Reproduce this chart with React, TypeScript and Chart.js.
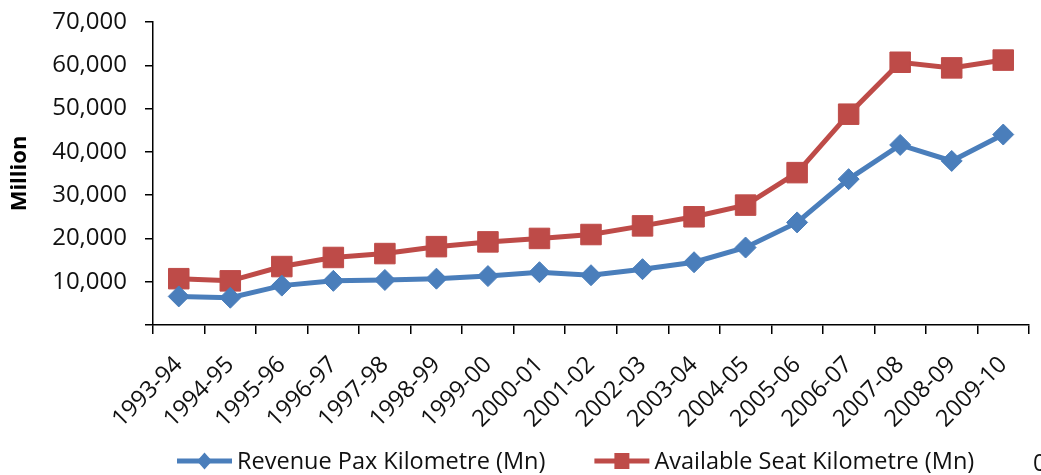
import React, { useEffect, useRef } from 'react';
import { Chart, registerables } from 'chart.js';

Chart.register(...registerables);

const categories = [
  '1993-94', '1994-95', '1995-96', '1996-97', '1997-98', '1998-99', '1999-00', '2000-01', '2001-02',
  '2002-03', '2003-04', '2004-05', '2005-06', '2006-07', '2007-08', '2008-09', '2009-10',
];
const revenuePaxKm = [6600, 6300, 9100, 10200, 10400, 10700, 11300, 12200, 11500, 12900, 14500, 17900, 23700, 33700, 41600, 37900, 44000];
const availableSeatKm = [10700, 10200, 13500, 15600, 16500, 18100, 19200, 20000, 20900, 22900, 25000, 27700, 35200, 48700, 60700, 59400, 61200];
const seriesLabels = ['Revenue Pax Kilometre (Mn)', 'Available Seat Kilometre (Mn)'];
const yMin = 0;
const yMax = 70000;
const yStep = 10000;
const yTitle = 'Million';
const cornerText = '0';

const FONT = '"Open Sans", sans-serif';
const TEXT = '#111111';
const BLUE = '#4A7EBB';
const RED = '#BE4B48';

const legendPlugin = {
  id: 'lineLegend',
  afterDraw(chart: any) {
    const ctx = chart.ctx as CanvasRenderingContext2D;
    const area = chart.chartArea;
    ctx.save();
    ctx.font = `23.5px ${FONT}`;
    ctx.textBaseline = 'middle';
    ctx.textAlign = 'left';
    const y = chart.height - 14;
    let x = area.left + 24;
    chart.data.datasets.forEach((ds: any) => {
      ctx.strokeStyle = ds.borderColor;
      ctx.lineWidth = 5;
      ctx.beginPath();
      ctx.moveTo(x, y);
      ctx.lineTo(x + 55, y);
      ctx.stroke();
      const cx = x + 27.5;
      ctx.fillStyle = ds.backgroundColor;
      ctx.beginPath();
      if (ds.pointStyle === 'rectRot') {
        ctx.moveTo(cx, y - 8.5);
        ctx.lineTo(cx + 7.5, y);
        ctx.lineTo(cx, y + 8.5);
        ctx.lineTo(cx - 7.5, y);
        ctx.closePath();
      } else {
        ctx.rect(cx - 7.5, y - 8, 15, 16);
      }
      ctx.fill();
      x += 60;
      ctx.fillStyle = TEXT;
      ctx.fillText(ds.label, x, y + 1);
      x += ctx.measureText(ds.label).width + 49;
    });
    ctx.fillText(cornerText, chart.width - 8, y + 3);
    ctx.restore();
  },
};

export default function App() {
  const ref = useRef<HTMLCanvasElement | null>(null);
  useEffect(() => {
    document.body.style.margin = '0';
    const canvas = ref.current;
    if (!canvas) return;
    const chart = new Chart(canvas, {
      type: 'line',
      data: {
        labels: categories,
        datasets: [
          {
            label: seriesLabels[0],
            data: revenuePaxKm,
            borderColor: BLUE,
            backgroundColor: BLUE,
            borderWidth: 5,
            pointStyle: 'rectRot',
            pointRadius: 10.5,
            pointBorderWidth: 1,
            pointBorderColor: BLUE,
            pointBackgroundColor: BLUE,
            tension: 0,
            clip: false,
          },
          {
            label: seriesLabels[1],
            data: availableSeatKm,
            borderColor: RED,
            backgroundColor: RED,
            borderWidth: 5,
            pointStyle: 'rect',
            pointRadius: 14.5,
            pointBorderWidth: 1,
            pointBorderColor: RED,
            pointBackgroundColor: RED,
            tension: 0,
            clip: false,
          },
        ],
      },
      options: {
        animation: false,
        responsive: true,
        maintainAspectRatio: false,
        layout: { autoPadding: false, padding: { left: 0, top: 22, right: 12, bottom: 0 } },
        plugins: {
          legend: { display: false },
          tooltip: { enabled: false },
        },
        scales: {
          x: {
            offset: true,
            grid: {
              offset: true,
              drawOnChartArea: false,
              drawTicks: true,
              tickLength: 9,
              color: '#000',
              lineWidth: 1.5,
            },
            border: { display: true, color: '#000', width: 1.5 },
            ticks: {
              color: TEXT,
              font: { family: FONT, size: 23.5 },
              minRotation: 45,
              maxRotation: 45,
              padding: 17,
              autoSkip: false,
            },
            afterFit(scale: any) {
              scale.height = 150;
              scale.paddingLeft = 0;
              scale.paddingRight = 0;
            },
          },
          y: {
            min: yMin,
            max: yMax,
            grid: {
              drawOnChartArea: false,
              drawTicks: true,
              tickLength: 8,
              color: '#000',
              lineWidth: 1.5,
            },
            border: { display: true, color: '#000', width: 1.5 },
            ticks: {
              stepSize: yStep,
              color: TEXT,
              font: { family: FONT, size: 24 },
              padding: 18,
              callback: (v: any) => (Number(v) === 0 ? '' : Number(v).toLocaleString('en-US')),
            },
            title: {
              display: true,
              text: yTitle,
              color: '#000',
              font: { family: FONT, size: 22, weight: 'bold' },
              padding: { top: 7, bottom: 0 },
            },
            afterFit(scale: any) {
              scale.width = 153;
              scale.paddingTop = 0;
              scale.paddingBottom = 0;
            },
          },
        },
      },
      plugins: [legendPlugin],
    });
    return () => chart.destroy();
  }, []);
  return (
    <div style={{ width: 1041, height: 475, position: 'relative', background: '#fff' }}>
      <canvas ref={ref} />
    </div>
  );
}
